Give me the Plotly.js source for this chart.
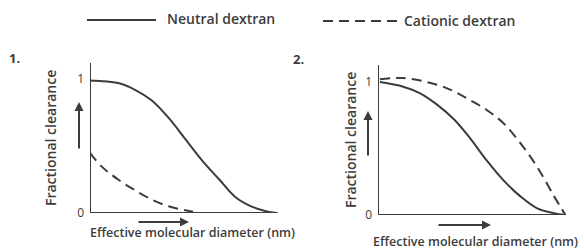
<!DOCTYPE html>
<html>
<head>
<meta charset="utf-8">
<script src="https://cdn.plot.ly/plotly-3.0.1.min.js"></script>
<style>html,body{margin:0;padding:0;background:#fff;}#chart{width:584px;height:250px;}</style>
</head>
<body>
<div id="chart"></div>
<script>
// Panel 1 data (effective molecular diameter, arbitrary units 0-10; fractional clearance)
const p1NeutralX = [0, 1.5, 2.4, 3.3, 4.2, 5.1, 6.0, 6.9, 7.75, 8.6, 9.5, 10];
const p1NeutralY = [0.99, 0.97, 0.92, 0.84, 0.71, 0.55, 0.39, 0.25, 0.12, 0.05, 0.01, 0];
const p1CationicX = [0, 0.6, 1.5, 2.4, 3.3, 4.2, 5.1, 5.5];
const p1CationicY = [0.45, 0.35, 0.25, 0.17, 0.10, 0.05, 0.02, 0.01];
// Panel 2 data
const p2NeutralX = [0.1, 1.35, 2.25, 3.15, 4.05, 4.9, 5.8, 6.7, 7.6, 8.5, 9.4, 10];
const p2NeutralY = [1.0, 0.965, 0.915, 0.83, 0.72, 0.58, 0.41, 0.26, 0.14, 0.05, 0.013, 0];
const p2CationicX = [0.1, 1.35, 3.15, 4.05, 4.9, 5.8, 6.7, 7.6, 8.5, 9.4, 10];
const p2CationicY = [1.02, 1.03, 0.98, 0.93, 0.865, 0.79, 0.69, 0.54, 0.36, 0.14, 0.0];
const seriesNames = ["Neutral dextran", "Cationic dextran"];
const panelLabels = ["1.", "2."];
const tickVals = [0, 1];
const tickText = ["0", "1"];
const xTitle = "Effective molecular diameter (nm)";
const yTitle = "Fractional clearance";

const ink = "#3c3c3c";
const fam = "Open Sans, Liberation Sans, Arial, sans-serif";
const solid = {color: ink, width: 2, shape: "spline", smoothing: 1};
const dashed = {color: ink, width: 2, dash: "10px,6px", shape: "spline", smoothing: 1};

const W = 584, H = 250;
const px = x => x / W, py = y => (H - y) / H;

const traces = [
  {x: p1NeutralX, y: p1NeutralY, xaxis: "x", yaxis: "y", mode: "lines", line: solid, name: seriesNames[0], showlegend: false},
  {x: p1CationicX, y: p1CationicY, xaxis: "x", yaxis: "y", mode: "lines", line: dashed, name: seriesNames[1], showlegend: false},
  {x: p2NeutralX, y: p2NeutralY, xaxis: "x2", yaxis: "y2", mode: "lines", line: solid, name: seriesNames[0], showlegend: false},
  {x: p2CationicX, y: p2CationicY, xaxis: "x2", yaxis: "y2", mode: "lines", line: dashed, name: seriesNames[1], showlegend: false}
];

const xa = d => ({domain: d, range: [0, 10.3], showgrid: false, zeroline: false, showticklabels: false, ticks: "",
  showline: false});
const ya = (d, r) => ({domain: d, range: r, showgrid: false, zeroline: false, tickvals: tickVals, ticktext: tickText,
  ticks: "", showline: false, tickfont: {family: fam, size: 12, color: ink}, ticklabelstandoff: 5});

const arrow = (x, y, ax, ay) => ({xref: "paper", yref: "paper", x: px(x), y: py(y), ax: ax, ay: ay,
  showarrow: true, arrowhead: 2, arrowsize: 0.9, arrowwidth: 2, arrowcolor: ink, text: ""});
const txt = (x, y, t, size, extra) => Object.assign({xref: "paper", yref: "paper", x: px(x), y: py(y),
  xanchor: "left", yanchor: "middle", text: t, showarrow: false,
  font: {family: fam, size: size, color: ink, weight: 600}}, extra || {});

const layout = {
  width: W, height: H,
  margin: {l: 0, r: 0, t: 0, b: 0},
  paper_bgcolor: "#fff", plot_bgcolor: "rgba(0,0,0,0)",
  showlegend: false,
  xaxis: xa([px(90), px(283)]),
  yaxis: Object.assign(ya([py(213), py(63)], [0, 1.12]), {anchor: "x"}),
  xaxis2: Object.assign(xa([px(378), px(571)]), {anchor: "y2"}),
  yaxis2: Object.assign(ya([py(215), py(65)], [0, 1.128]), {anchor: "x2"}),
  shapes: [
    // axis lines panel 1
    {type: "line", xref: "x", yref: "y", x0: 0, x1: 0, y0: 0, y1: 1.12, line: {color: ink, width: 2}},
    {type: "line", xref: "x", yref: "y", x0: 0, x1: 10, y0: 0, y1: 0, line: {color: ink, width: 2}},
    // axis lines panel 2
    {type: "line", xref: "x2", yref: "y2", x0: 0, x1: 0, y0: 0, y1: 1.128, line: {color: ink, width: 2}},
    {type: "line", xref: "x2", yref: "y2", x0: 0, x1: 10, y0: 0, y1: 0, line: {color: ink, width: 2}},
    // legend samples
    {type: "line", xref: "paper", yref: "paper", x0: px(87), x1: px(156), y0: py(20), y1: py(20), line: {color: ink, width: 2}},
    {type: "line", xref: "paper", yref: "paper", x0: px(323), x1: px(398), y0: py(21), y1: py(21), line: {color: ink, width: 2, dash: "10px,6px"}}
  ],
  annotations: [
    txt(165, 19, seriesNames[0], 14),
    txt(402, 21, seriesNames[1], 14),
    txt(7, 58, "<b>" + panelLabels[0] + "</b>", 13),
    txt(291, 59, "<b>" + panelLabels[1] + "</b>", 13),
    txt(50, 138, yTitle, 14, {xanchor: "center", textangle: -90}),
    txt(350, 140, yTitle, 14, {xanchor: "center", textangle: -90}),
    txt(192, 233, xTitle, 12.5, {xanchor: "center"}),
    txt(475, 241, xTitle, 12.5, {xanchor: "center"}),
    arrow(189, 222, -52, 0),
    arrow(79, 102, 0, 48),
    arrow(491, 225, -54, 0),
    arrow(368, 111, 0, 46)
  ]
};

Plotly.newPlot("chart", traces, layout, {staticPlot: true, displayModeBar: false});
</script>
</body>
</html>
